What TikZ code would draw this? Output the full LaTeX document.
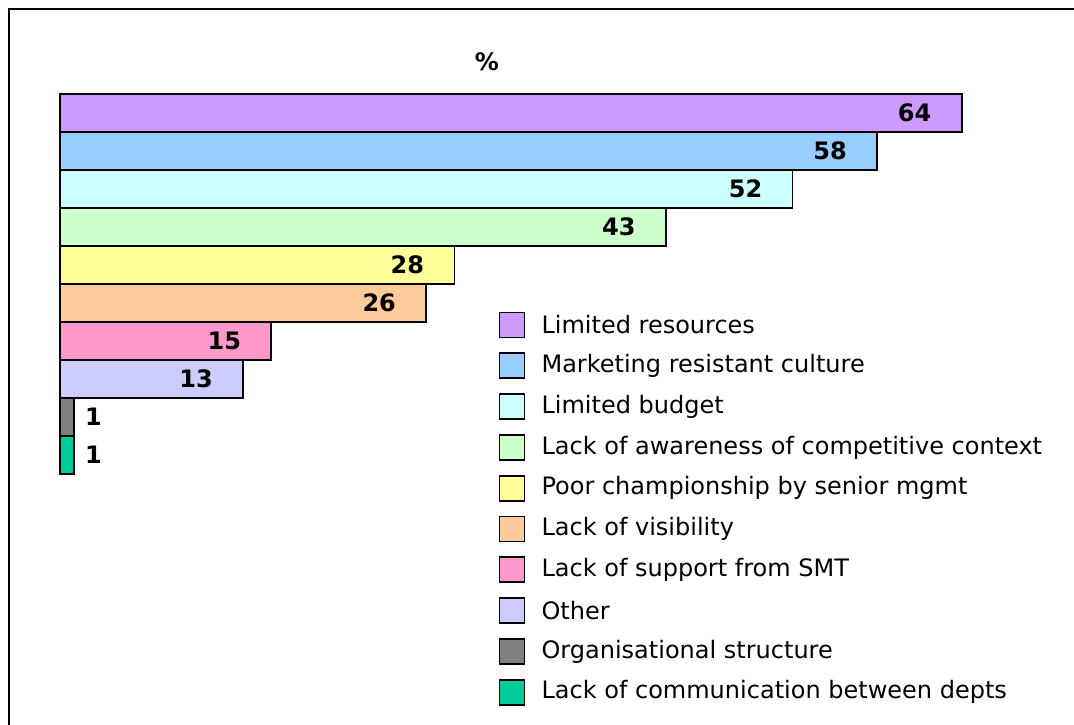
\documentclass[tikz,border=0pt]{standalone}
\usepackage{fontspec}
\setmainfont{DejaVu Sans}
\usetikzlibrary{positioning}
\definecolor{resourcescol}{HTML}{CC99FF}
\definecolor{culturecol}{HTML}{99CCFF}
\definecolor{budgetcol}{HTML}{CCFFFF}
\definecolor{awarenesscol}{HTML}{CCFFCC}
\definecolor{championcol}{HTML}{FFFF99}
\definecolor{visibilitycol}{HTML}{FFCC99}
\definecolor{supportcol}{HTML}{FF99CC}
\definecolor{othercol}{HTML}{CCCCFF}
\definecolor{structurecol}{HTML}{808080}
\definecolor{commscol}{HTML}{00CC99}

\begin{document}
\begin{tikzpicture}[x=1pt,y=-1pt,
    bar/.style={draw,line width=1.8pt,inner sep=0,anchor=north west,minimum height=\barheight pt},
    value/.style={anchor=east,font=\valuefontsize\bfseries,inner sep=0},
    key/.style={draw,line width=1.7pt,inner sep=0,minimum size=25pt},
    keytext/.style={right=16pt of #1,anchor=west,font=\legendfontsize,inner sep=0}]
    \pgfmathsetmacro{\unitwidth}{14.09}  % pixels per percent
    \pgfmathsetmacro{\barheight}{38}
    \pgfmathsetmacro{\barleft}{59}
    \pgfmathsetmacro{\bartop}{93}
    \pgfmathsetmacro{\valuegap}{31}
    \pgfmathsetmacro{\keyx}{512}
    \pgfmathsetmacro{\keytop}{325}
    \pgfmathsetmacro{\keystep}{40.8}
    \providecommand{\valuefontsize}{\fontsize{24pt}{28pt}\selectfont}
    \providecommand{\legendfontsize}{\fontsize{24pt}{28pt}\selectfont}
    \useasboundingbox (0,0) rectangle (1074,725);
    \draw[line width=2pt] (9,726) -- (9,9) -- (1075,9);
    \node[font=\valuefontsize\bfseries] (title) at (487,62) {\%};
    % bars
    \node[bar,fill=resourcescol,minimum width={64*\unitwidth}] (b1) at (\barleft,\bartop) {};
    \node[bar,fill=culturecol,minimum width={58*\unitwidth}] (b2) at (\barleft,\bartop+\barheight) {};
    \node[bar,fill=budgetcol,minimum width={52*\unitwidth}] (b3) at (\barleft,\bartop+2*\barheight) {};
    \node[bar,fill=awarenesscol,minimum width={43*\unitwidth}] (b4) at (\barleft,\bartop+3*\barheight) {};
    \node[bar,fill=championcol,minimum width={28*\unitwidth}] (b5) at (\barleft,\bartop+4*\barheight) {};
    \node[bar,fill=visibilitycol,minimum width={26*\unitwidth}] (b6) at (\barleft,\bartop+5*\barheight) {};
    \node[bar,fill=supportcol,minimum width={15*\unitwidth}] (b7) at (\barleft,\bartop+6*\barheight) {};
    \node[bar,fill=othercol,minimum width={13*\unitwidth}] (b8) at (\barleft,\bartop+7*\barheight) {};
    \node[bar,fill=structurecol,minimum width={1*\unitwidth}] (b9) at (\barleft,\bartop+8*\barheight) {};
    \node[bar,fill=commscol,minimum width={1*\unitwidth}] (b10) at (\barleft,\bartop+9*\barheight) {};
    % values
    \node[value,left=\valuegap pt of b1.east,anchor=east] (v1) {64};
    \node[value,left=\valuegap pt of b2.east,anchor=east] (v2) {58};
    \node[value,left=\valuegap pt of b3.east,anchor=east] (v3) {52};
    \node[value,left=\valuegap pt of b4.east,anchor=east] (v4) {43};
    \node[value,left=\valuegap pt of b5.east,anchor=east] (v5) {28};
    \node[value,left=\valuegap pt of b6.east,anchor=east] (v6) {26};
    \node[value,left=\valuegap pt of b7.east,anchor=east] (v7) {15};
    \node[value,left=\valuegap pt of b8.east,anchor=east] (v8) {13};
    \node[value,right=10pt of b9.east,anchor=west] (v9) {1};
    \node[value,right=10pt of b10.east,anchor=west] (v10) {1};
    % legend
    \node[key,fill=resourcescol] (k1) at (\keyx,\keytop) {};
    \node[keytext=k1] (t1) {Limited resources};
    \node[key,fill=culturecol] (k2) at (\keyx,\keytop+\keystep) {};
    \node[keytext=k2] (t2) {Marketing resistant culture};
    \node[key,fill=budgetcol] (k3) at (\keyx,\keytop+2*\keystep) {};
    \node[keytext=k3] (t3) {Limited budget};
    \node[key,fill=awarenesscol] (k4) at (\keyx,\keytop+3*\keystep) {};
    \node[keytext=k4] (t4) {Lack of awareness of competitive context};
    \node[key,fill=championcol] (k5) at (\keyx,\keytop+4*\keystep) {};
    \node[keytext=k5] (t5) {Poor championship by senior mgmt};
    \node[key,fill=visibilitycol] (k6) at (\keyx,\keytop+5*\keystep) {};
    \node[keytext=k6] (t6) {Lack of visibility};
    \node[key,fill=supportcol] (k7) at (\keyx,\keytop+6*\keystep) {};
    \node[keytext=k7] (t7) {Lack of support from SMT};
    \node[key,fill=othercol] (k8) at (\keyx,\keytop+7*\keystep) {};
    \node[keytext=k8] (t8) {Other};
    \node[key,fill=structurecol] (k9) at (\keyx,\keytop+8*\keystep) {};
    \node[keytext=k9] (t9) {Organisational structure};
    \node[key,fill=commscol] (k10) at (\keyx,\keytop+9*\keystep) {};
    \node[keytext=k10] (t10) {Lack of communication between depts};
\end{tikzpicture}
\end{document}
